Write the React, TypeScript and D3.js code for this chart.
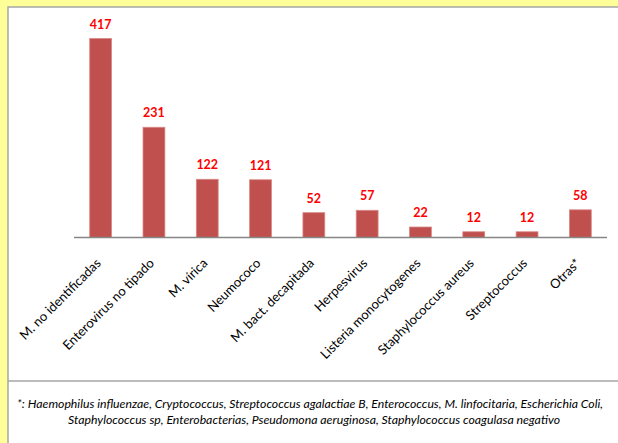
import React from "react";
import * as d3 from "d3";

const categories = [
  "M. no identificadas",
  "Enterovirus no tipado",
  "M. vírica",
  "Neumococo",
  "M. bact. decapitada",
  "Herpesvirus",
  "Listeria monocytogenes",
  "Staphylococcus aureus",
  "Streptococcus",
  "Otras*",
];
const values = [417, 231, 122, 121, 52, 57, 22, 12, 12, 58];
const footnoteLines = [
  "*: Haemophilus influenzae, Cryptococcus, Streptococcus agalactiae B, Enterococcus, M. linfocitaria, Escherichia Coli,",
  "Staphylococcus sp, Enterobacterias, Pseudomona aeruginosa, Staphylococcus  coagulasa negativo",
];

const W = 618;
const H = 443;

export default function App() {
  const x = d3
    .scaleBand<string>()
    .domain(categories)
    .range([74, 607])
    .paddingInner(0.59)
    .paddingOuter(0.295);
  const y = d3.scaleLinear().domain([0, 417]).range([237.5, 38.5]);
  const bw = x.bandwidth();

  return (
    <svg
      width={W}
      height={H}
      style={{ position: "absolute", left: 0, top: 0 }}
      fontFamily="Lato, 'Open Sans', sans-serif"
    >
      <rect x={0} y={0} width={W} height={H} fill="#FFFF99" />
      <rect x={8} y={7} width={W} height={H} fill="#FFFFFF" stroke="#A6A6A6" strokeWidth={1.5} />
      <line x1={8} x2={W} y1={381} y2={381} stroke="#A6A6A6" strokeWidth={1.5} />

      {categories.map((c, i) => {
        const x0 = x(c) as number;
        const v = values[i];
        return (
          <g key={c}>
            <rect
              x={x0}
              y={y(v)}
              width={bw}
              height={y(0) - y(v)}
              fill="#C0504D"
              stroke="#D98886"
              strokeWidth={0.8}
            />
            <text
              x={x0 + bw / 2}
              y={y(v) - 10}
              textAnchor="middle"
              fill="#FF0000"
              fontWeight="bold"
              fontSize={12.5}
            >
              {v}
            </text>
            <text
              transform={`translate(${x0 + bw / 2 + 1},264) rotate(-45)`}
              textAnchor="end"
              fill="#000000"
              fontSize={13}
            >
              {c}
            </text>
          </g>
        );
      })}

      <line x1={74} x2={607} y1={237.5} y2={237.5} stroke="#868686" strokeWidth={1.5} />

      <text
        x={310}
        y={408}
        textAnchor="middle"
        fontStyle="italic"
        fontSize={10.5}
        fill="#000000"
        textLength={586}
        lengthAdjust="spacingAndGlyphs"
      >
        {footnoteLines[0]}
      </text>
      <text
        x={314}
        y={424}
        textAnchor="middle"
        fontStyle="italic"
        fontSize={10.5}
        fill="#000000"
        textLength={492}
        lengthAdjust="spacingAndGlyphs"
      >
        {footnoteLines[1]}
      </text>
    </svg>
  );
}
